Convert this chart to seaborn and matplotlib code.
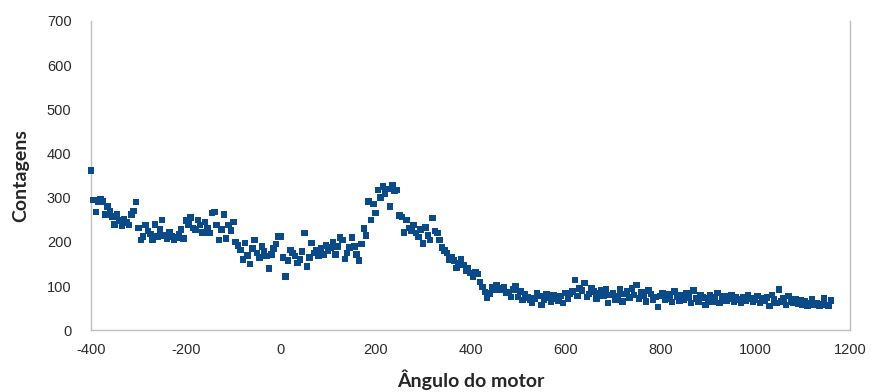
import numpy as np
import pandas as pd
import matplotlib
matplotlib.use("Agg")
import matplotlib.pyplot as plt
import seaborn as sns

# angulo do motor (passo de 5)
angulo = [
    -400, -395, -390, -385, -380, -375, -370, -365, -360, -355, -350, -345, -340, -335, -330, -325, -320, -315, -310, -305,
    -300, -295, -290, -285, -280, -275, -270, -265, -260, -255, -250, -245, -240, -235, -230, -225, -220, -215, -210, -205,
    -200, -195, -190, -185, -180, -175, -170, -165, -160, -155, -150, -145, -140, -135, -130, -125, -120, -115, -110, -105,
    -100, -95, -90, -85, -80, -75, -70, -65, -60, -55, -50, -45, -40, -35, -30, -25, -20, -15, -10, -5,
    0, 5, 10, 15, 20, 25, 30, 35, 40, 45, 50, 55, 60, 65, 70, 75, 80, 85, 90, 95,
    100, 105, 110, 115, 120, 125, 130, 135, 140, 145, 150, 155, 160, 165, 170, 175, 180, 185, 190, 195,
    200, 205, 210, 215, 220, 225, 230, 235, 240, 245, 250, 255, 260, 265, 270, 275, 280, 285, 290, 295,
    300, 305, 310, 315, 320, 325, 330, 335, 340, 345, 350, 355, 360, 365, 370, 375, 380, 385, 390, 395,
    400, 405, 410, 415, 420, 425, 430, 435, 440, 445, 450, 455, 460, 465, 470, 475, 480, 485, 490, 495,
    500, 505, 510, 515, 520, 525, 530, 535, 540, 545, 550, 555, 560, 565, 570, 575, 580, 585, 590, 595,
    600, 605, 610, 615, 620, 625, 630, 635, 640, 645, 650, 655, 660, 665, 670, 675, 680, 685, 690, 695,
    700, 705, 710, 715, 720, 725, 730, 735, 740, 745, 750, 755, 760, 765, 770, 775, 780, 785, 790, 795,
    800, 805, 810, 815, 820, 825, 830, 835, 840, 845, 850, 855, 860, 865, 870, 875, 880, 885, 890, 895,
    900, 905, 910, 915, 920, 925, 930, 935, 940, 945, 950, 955, 960, 965, 970, 975, 980, 985, 990, 995,
    1000, 1005, 1010, 1015, 1020, 1025, 1030, 1035, 1040, 1045, 1050, 1055, 1060, 1065, 1070, 1075, 1080, 1085, 1090, 1095,
    1100, 1105, 1110, 1115, 1120, 1125, 1130, 1135, 1140, 1145, 1150, 1155, 1160,
]

contagens = [
    362, 295, 268, 290, 296, 292, 262, 280, 270, 258, 240, 262, 248, 236, 252, 244, 238, 262, 270, 290,
    232, 205, 212, 238, 225, 218, 205, 240, 212, 228, 250, 215, 208, 222, 212, 205, 210, 218, 228, 208,
    248, 240, 255, 232, 228, 250, 238, 222, 245, 232, 220, 265, 268, 238, 205, 228, 262, 208, 238, 226,
    245, 200, 192, 182, 160, 198, 170, 150, 185, 205, 175, 165, 190, 180, 168, 140, 172, 185, 195, 212,
    212, 165, 122, 158, 182, 175, 168, 152, 160, 178, 220, 145, 165, 198, 175, 182, 168, 185, 172, 192,
    180, 188, 200, 172, 190, 210, 205, 162, 175, 188, 210, 190, 172, 158, 195, 230, 215, 292, 250, 286,
    265, 318, 300, 325, 310, 320, 280, 328, 316, 318, 260, 256, 222, 250, 232, 225, 238, 220, 211, 228,
    197, 233, 215, 205, 254, 225, 220, 204, 188, 181, 175, 160, 165, 158, 141, 152, 160, 148, 136, 140,
    130, 121, 132, 128, 110, 98, 87, 73, 84, 98, 92, 103, 95, 91, 98, 85, 87, 76, 92, 100,
    76, 88, 69, 82, 75, 70, 62, 72, 85, 78, 58, 70, 82, 75, 65, 80, 72, 68, 78, 62,
    85, 72, 82, 88, 114, 78, 95, 90, 107, 76, 82, 96, 88, 72, 85, 90, 78, 92, 62, 80,
    85, 70, 78, 92, 65, 82, 88, 75, 95, 80, 103, 72, 86, 78, 66, 90, 82, 70, 76, 53,
    78, 85, 70, 82, 72, 64, 88, 76, 68, 80, 70, 85, 75, 62, 90, 72, 66, 80, 75, 58,
    72, 80, 66, 75, 85, 62, 70, 78, 68, 72, 80, 65, 74, 70, 62, 76, 68, 80, 72, 65,
    70, 78, 62, 72, 68, 75, 55, 80, 70, 62, 92, 65, 72, 58, 78, 66, 62, 70, 60, 68,
    58, 65, 55, 62, 70, 58, 62, 55, 60, 72, 58, 55, 68,
]

df = pd.DataFrame({"angulo": angulo, "contagens": contagens})

sns.set_style("white")
plt.rcParams["font.family"] = ["Liberation Sans", "DejaVu Sans"]
plt.rcParams["axes.unicode_minus"] = False

fig = plt.figure(figsize=(8.71, 3.92), dpi=100)
ax = fig.add_axes([0.1045, 0.157, 0.8715, 0.79])

sns.scatterplot(x="angulo", y="contagens", data=df, ax=ax, marker="s", s=22,
                color="#0b4a88", edgecolor="none", linewidth=0, clip_on=False, zorder=3)

ax.set_xlim(-400, 1200)
ax.set_ylim(0, 700)
ax.set_xticks([-400, -200, 0, 200, 400, 600, 800, 1000, 1200])
ax.set_yticks([0, 100, 200, 300, 400, 500, 600, 700])

for side in ["left", "bottom", "right"]:
    ax.spines[side].set_color("#bfbfbf")
    ax.spines[side].set_linewidth(1)
ax.spines["top"].set_visible(False)

ax.tick_params(axis="both", direction="out", length=5, width=1, color="#bfbfbf",
               labelsize=10.5, labelcolor="#2b2b2b")
ax.tick_params(axis="y", pad=9)
ax.tick_params(axis="x", pad=4)

ax.set_xlabel("Ângulo do motor", fontsize=14, fontweight="bold", family=["Lato", "DejaVu Sans"], labelpad=9)
ax.set_ylabel("Contagens", fontsize=14, fontweight="bold", family=["Lato", "DejaVu Sans"], labelpad=13)

fig.savefig("out.png", dpi=100)
